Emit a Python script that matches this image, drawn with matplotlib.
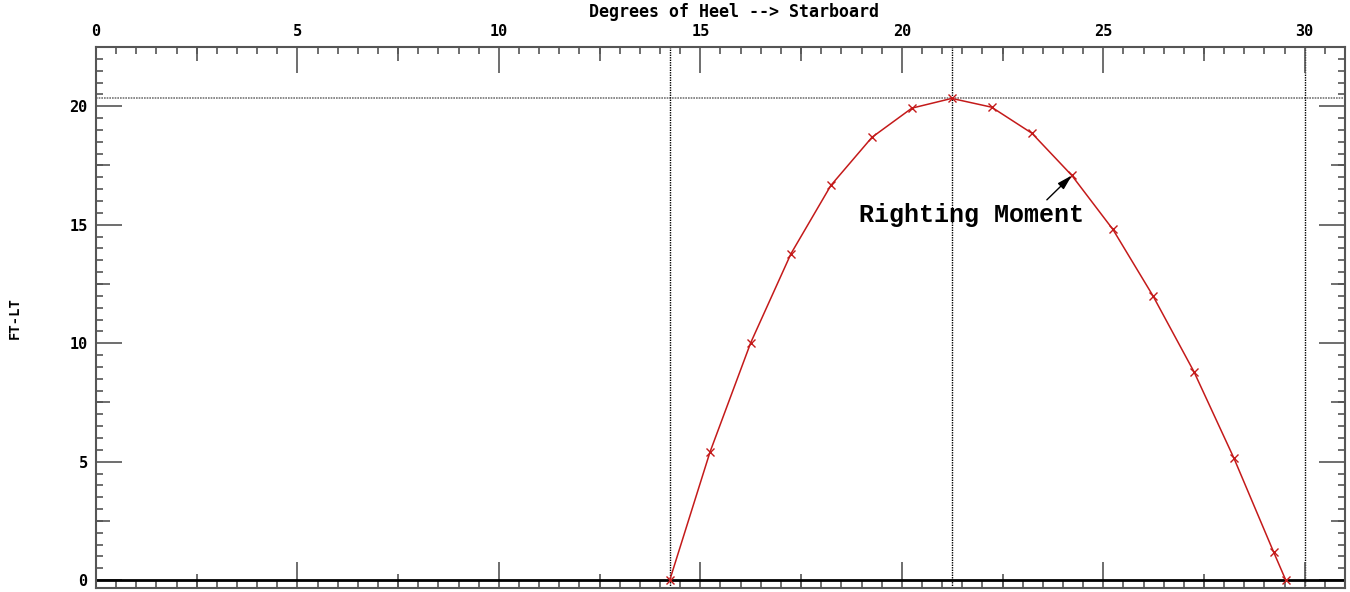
import matplotlib
matplotlib.use("Agg")
import matplotlib.pyplot as plt
from matplotlib.ticker import MultipleLocator, NullFormatter

# ── Data ───────────────────────────────────────────────────────────────────────
heel = [14.24, 15.24, 16.25, 17.25, 18.24, 19.26, 20.25, 21.24, 22.23,
        23.23, 24.22, 25.24, 26.23, 27.25, 28.24, 29.23, 29.53]
moment = [0.0, 5.41, 10.02, 13.78, 16.66, 18.69, 19.92, 20.33, 19.96,
          18.86, 17.08, 14.80, 12.01, 8.80, 5.16, 1.18, 0.0]

max_moment = 20.33
heel_start = 14.24
heel_max = 21.24
heel_limit = 30.0
arrow_tip = (24.22, 17.08)
arrow_tail = (23.6, 16.05)
label_pos = (21.74, 15.1)

x_ticks = [0, 5, 10, 15, 20, 25, 30]
y_ticks = [0, 5, 10, 15, 20]

TITLE = "Degrees of Heel --> Starboard"
YLABEL = "FT-LT"
NOTE = "Righting Moment"

RED = "#c41a1a"
GREY = "#555555"
MONO = ["DejaVu Sans Mono"]

fig = plt.figure(figsize=(13.5, 5.92), dpi=100)
ax = fig.add_axes([0.0711, 0.0068, 0.9252, 0.9138])

ax.set_xlim(0, 31.0)
ax.set_ylim(-0.33, 22.5)

# reference lines
ax.axhline(0, color="black", lw=2.0, zorder=2)
ax.axhline(max_moment, color="#777777", lw=1.2, ls=(0, (1, 0.6)), zorder=1)
for xv in (heel_start, heel_max, heel_limit):
    ax.axvline(xv, color="black", lw=1.0, ls=(0, (1, 0.8)), zorder=1)

# curve
ax.plot(heel, moment, color=RED, lw=1.1, marker="x", ms=6, mew=1.0,
        solid_joinstyle="round", zorder=3)

ax.annotate("", xy=arrow_tip, xytext=arrow_tail,
            arrowprops=dict(arrowstyle="-|>,head_length=0.9,head_width=0.25",
                            color="black", lw=1.0, shrinkA=0, shrinkB=0))
ax.text(label_pos[0], label_pos[1], NOTE, family=["Liberation Mono"],
        fontsize=18, fontweight="bold", ha="center", va="baseline")

# spines
for s in ax.spines.values():
    s.set_color(GREY)
    s.set_linewidth(1.5)

# ticks: long at 5, short at 0.5, inside on all sides
ax.set_xticks(x_ticks)
ax.set_yticks(y_ticks)
ax.xaxis.set_minor_locator(MultipleLocator(0.5))
ax.yaxis.set_minor_locator(MultipleLocator(0.5))
ax.tick_params(which="both", direction="in", top=True, bottom=True,
               left=True, right=True, color=GREY, width=1.2)
ax.tick_params(which="major", length=18.5)
ax.tick_params(which="minor", length=5)
ax.tick_params(axis="x", labeltop=True, labelbottom=False, pad=6)
ax.tick_params(axis="y", labelleft=True, labelright=False, pad=6)
for lab in ax.get_xticklabels() + ax.get_yticklabels():
    lab.set_family(MONO)
    lab.set_fontweight("bold")
    lab.set_fontsize(11)

# medium ticks at the half-way marks
for side in ("top", "bottom"):
    sec = ax.secondary_xaxis(side)
    sec.set_xticks([2.5, 7.5, 12.5, 17.5, 22.5, 27.5])
    sec.tick_params(direction="in", length=10, color=GREY, width=1.2)
    sec.xaxis.set_major_formatter(NullFormatter())
    sec.spines[side].set_visible(False)
for side in ("left", "right"):
    sec = ax.secondary_yaxis(side)
    sec.set_yticks([2.5, 7.5, 12.5, 17.5, 22.5])
    sec.tick_params(direction="in", length=10, color=GREY, width=1.2)
    sec.yaxis.set_major_formatter(NullFormatter())
    sec.spines[side].set_visible(False)

fig.text(734 / 1350, 1 - 12 / 592, TITLE, family=MONO, fontweight="bold",
         fontsize=12, ha="center", va="center")
fig.text(15 / 1350, 1 - 318 / 592, YLABEL, family=MONO, fontweight="bold",
         fontsize=10, ha="center", va="center", rotation=90)

fig.savefig("out.png", dpi=100)
